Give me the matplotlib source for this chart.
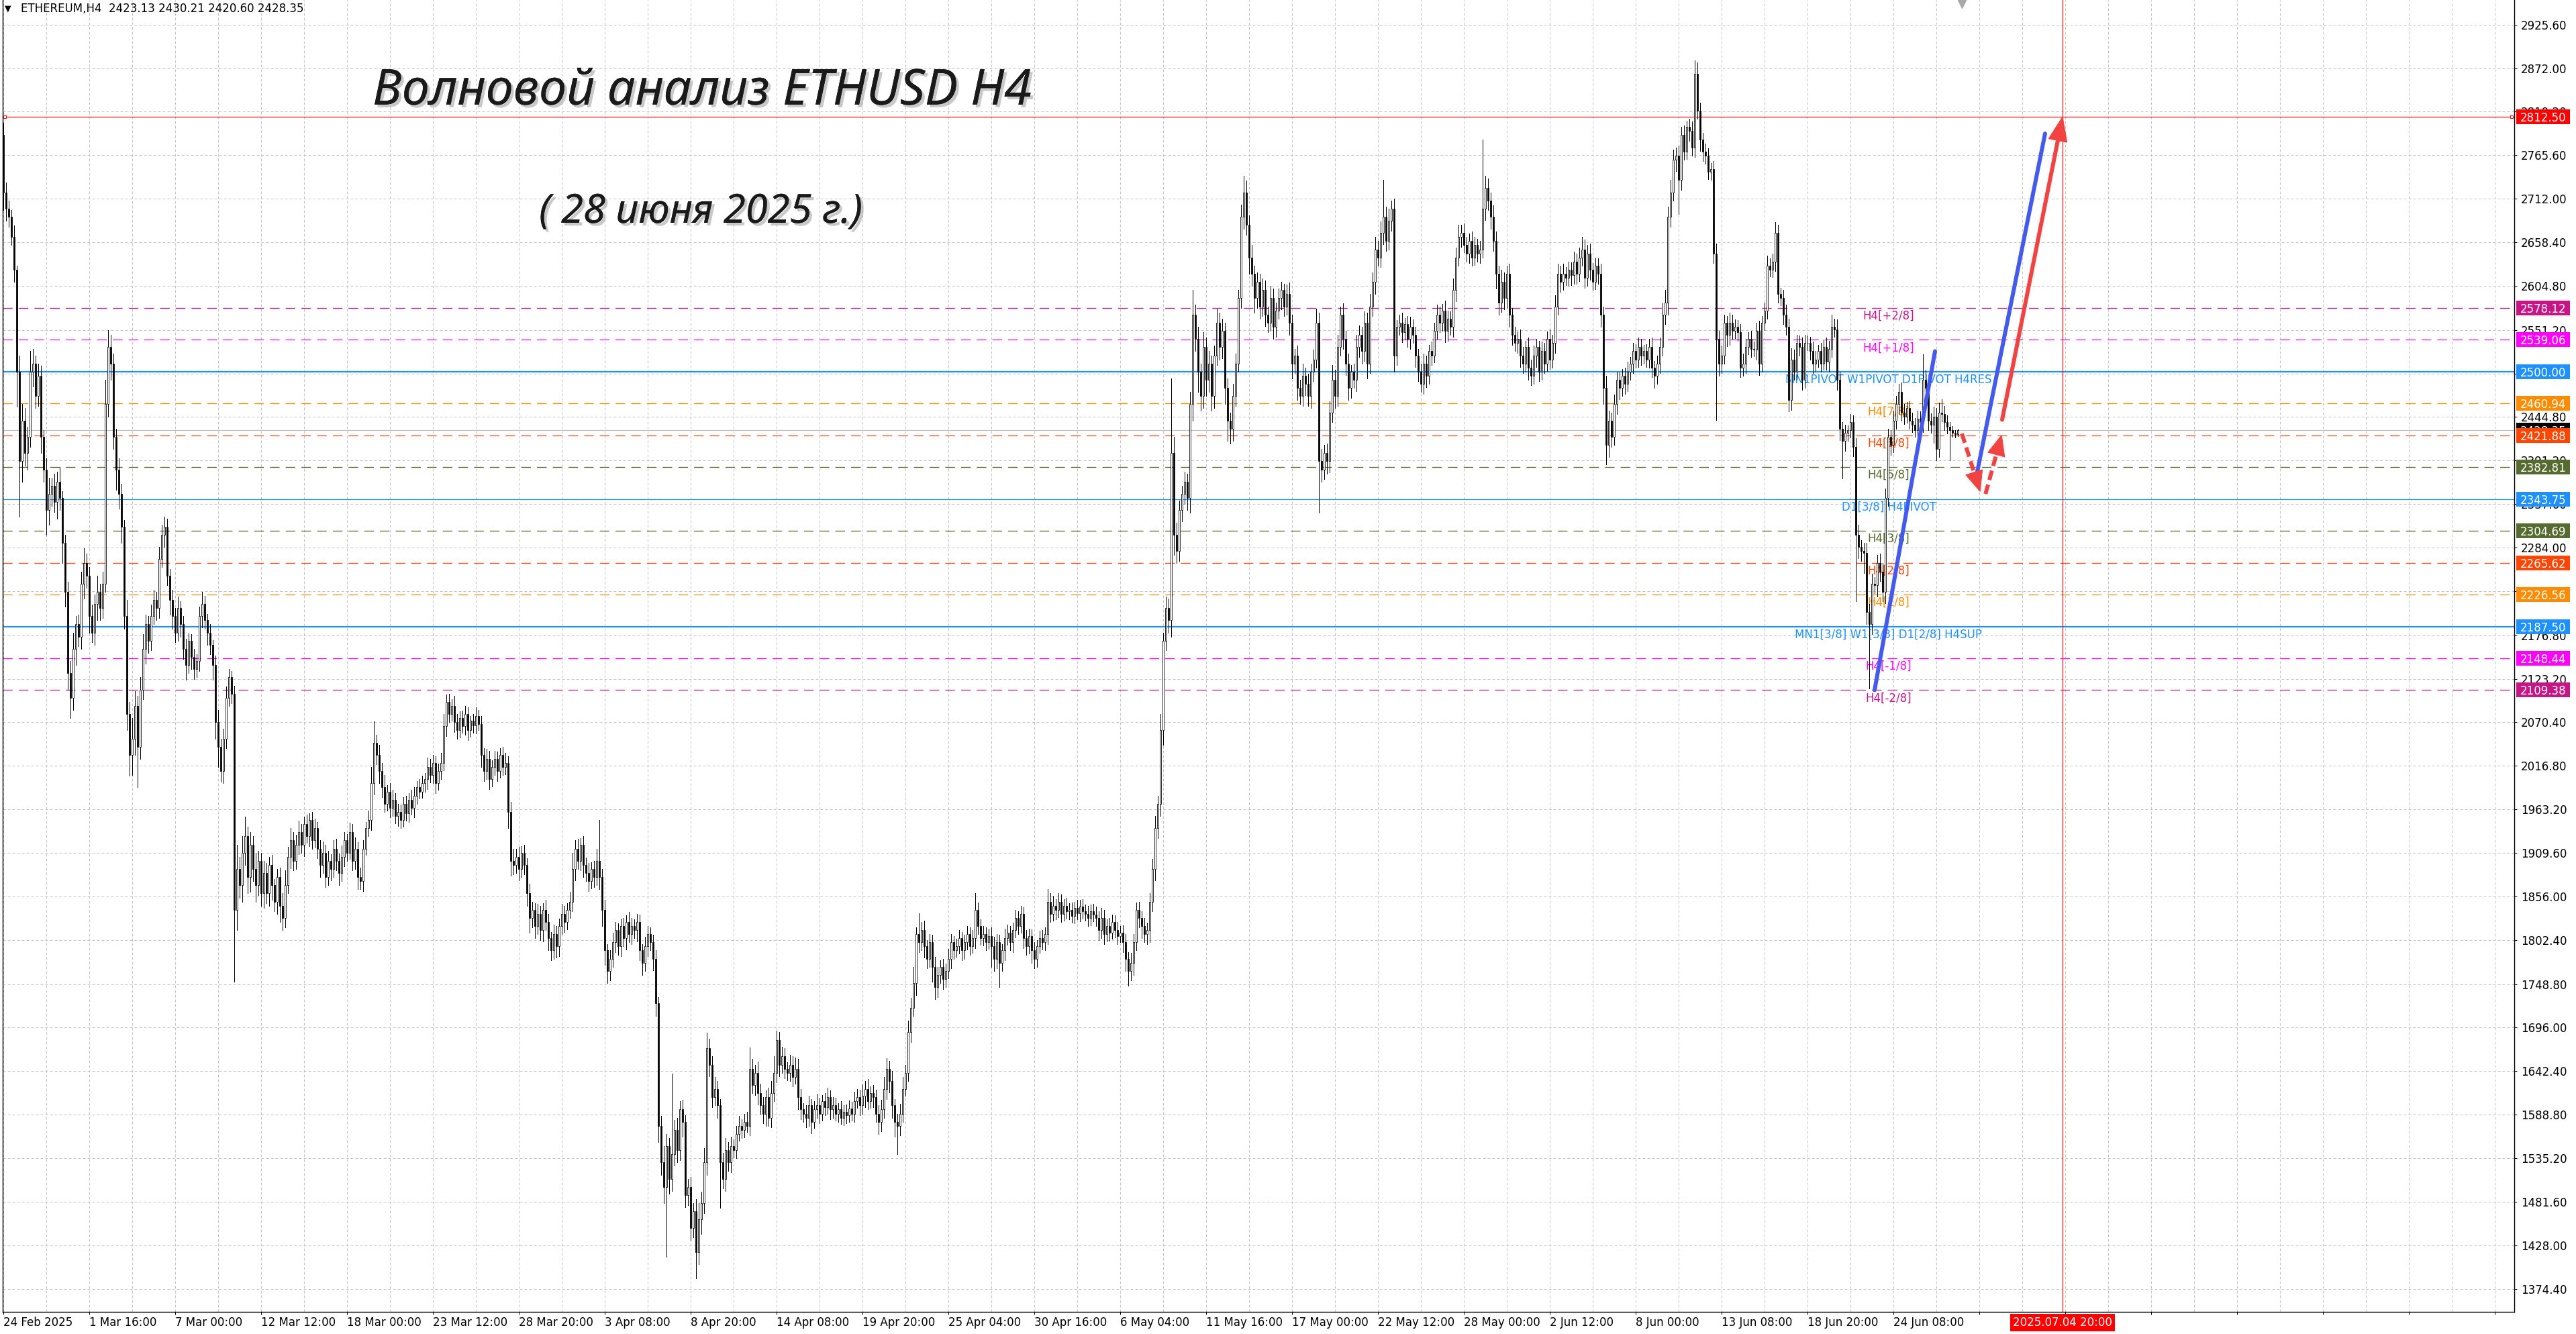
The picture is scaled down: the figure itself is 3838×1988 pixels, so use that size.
import numpy as np
import matplotlib
matplotlib.use('Agg')
import matplotlib.pyplot as plt
import matplotlib.patheffects as pe
from matplotlib.transforms import blended_transform_factory, offset_copy
from matplotlib.patches import Rectangle, Polygon
from datetime import datetime

# ---------------------------------------------------------------- data
symbol = 'ETHEREUM,H4'
first_open = 2790.0

closes = [
    2720, 2700, 2690, 2665, 2625, 2500, 2390, 2440, 2400, 2420,
    2500, 2510, 2470, 2495, 2420, 2380, 2330, 2350, 2360, 2340,
    2365, 2345, 2290, 2230, 2130, 2100, 2160, 2190, 2175, 2240,
    2265, 2250, 2200, 2180, 2215, 2230, 2210, 2240, 2460, 2530,
    2510, 2420, 2380, 2350, 2310, 2200, 2080, 2030, 2050, 2090,
    2040, 2110, 2160, 2190, 2170, 2200, 2220, 2210, 2270, 2300,
    2310, 2250, 2220, 2200, 2180, 2210, 2190, 2160, 2140, 2170,
    2150, 2135, 2145, 2200, 2215, 2195, 2180, 2165, 2140, 2070,
    2040, 2010, 2050, 2100, 2125, 2105, 1840, 1890, 1870, 1910,
    1930, 1880, 1920, 1890, 1870, 1900, 1860, 1885, 1860, 1895,
    1870, 1850, 1880, 1845, 1830, 1870, 1905, 1925, 1900, 1920,
    1935, 1920, 1945, 1930, 1950, 1925, 1940, 1915, 1895, 1910,
    1880, 1900, 1890, 1915, 1900, 1885, 1905, 1925, 1910, 1935,
    1900, 1915, 1880, 1875, 1915, 1940, 1950, 1995, 2045, 2030,
    2010, 1990, 1970, 1985, 1965, 1975, 1955, 1960, 1950, 1970,
    1958, 1975, 1965, 1980, 1990, 1985, 1995, 2000, 2015, 2005,
    2020, 1995, 2010, 2020, 2065, 2095, 2080, 2090, 2070, 2060,
    2075, 2065, 2080, 2060, 2072, 2066, 2078, 2068, 2030, 2010,
    2025, 2000, 2015, 2025, 2010, 2030, 2015, 2020, 1960, 1900,
    1895, 1905, 1890, 1910, 1895, 1860, 1830, 1840, 1820, 1835,
    1815, 1840, 1825, 1805, 1790, 1810, 1795, 1820, 1835, 1825,
    1840, 1850, 1890, 1915, 1900, 1920, 1895, 1885, 1875, 1890,
    1880, 1900, 1880, 1840, 1790, 1765, 1780, 1800, 1815, 1795,
    1820, 1805, 1825, 1810, 1820, 1815, 1825, 1790, 1775, 1795,
    1810, 1800, 1780, 1725, 1575, 1530, 1500, 1550, 1510, 1540,
    1570, 1545, 1595, 1580, 1490, 1500, 1450, 1470, 1420, 1460,
    1480, 1530, 1670, 1650, 1610, 1620, 1600, 1530, 1510, 1545,
    1530, 1550, 1545, 1565, 1575, 1570, 1580, 1575, 1645, 1625,
    1640, 1615, 1600, 1590, 1610, 1585, 1615, 1640, 1680, 1650,
    1660, 1645, 1640, 1650, 1635, 1645, 1610, 1595, 1590, 1585,
    1600, 1580, 1595, 1600, 1590, 1605, 1598, 1610, 1595, 1600,
    1590, 1595, 1585, 1592, 1588, 1596, 1590, 1605, 1610, 1600,
    1612, 1620, 1605, 1615, 1610, 1590, 1580, 1595, 1620, 1645,
    1630, 1600, 1580, 1575, 1590, 1620, 1640, 1690, 1720, 1750,
    1810, 1800, 1815, 1795, 1780, 1800, 1770, 1745, 1760, 1770,
    1755, 1765, 1780, 1800, 1790, 1795, 1805, 1790, 1800, 1810,
    1795, 1805, 1840, 1820, 1805, 1810, 1800, 1808, 1795, 1780,
    1800, 1775, 1790, 1805, 1812, 1800, 1815, 1830, 1820, 1835,
    1805, 1795, 1808, 1790, 1780, 1795, 1805, 1800, 1810, 1850,
    1835, 1845, 1840, 1850, 1835, 1845, 1838, 1840, 1832, 1842,
    1836, 1844, 1838, 1835, 1830, 1838, 1834, 1830, 1815, 1830,
    1810, 1820, 1812, 1825, 1815, 1808, 1812, 1800, 1780, 1765,
    1775, 1800, 1840, 1830, 1820, 1810, 1815, 1850, 1890, 1940,
    1970, 2060, 2170, 2210, 2195, 2400, 2300, 2280, 2330, 2350,
    2365, 2345, 2460, 2570, 2540, 2500, 2470, 2530, 2490, 2510,
    2470, 2520, 2560, 2530, 2550, 2480, 2440, 2430, 2470, 2510,
    2590, 2690, 2720, 2680, 2640, 2620, 2590, 2610, 2580, 2600,
    2570, 2560, 2590, 2555, 2575, 2590, 2600, 2580, 2595, 2560,
    2510, 2520, 2480, 2470, 2495, 2485, 2470, 2500, 2515, 2560,
    2390, 2380, 2400, 2390, 2450, 2490, 2470, 2530, 2570, 2540,
    2510, 2480, 2500, 2490, 2530, 2545, 2525, 2560, 2510, 2580,
    2610, 2650, 2640, 2670, 2690, 2660, 2685, 2700, 2520, 2555,
    2560, 2548, 2558, 2540, 2555, 2545, 2520, 2500, 2485, 2510,
    2495, 2525, 2520, 2550, 2570, 2560, 2575, 2550, 2565, 2555,
    2600, 2640, 2665, 2670, 2655, 2645, 2660, 2640, 2655, 2645,
    2650, 2700, 2725, 2710, 2690, 2660, 2620, 2585, 2610, 2590,
    2620, 2570, 2545, 2535, 2540, 2520, 2510, 2530, 2505, 2495,
    2520, 2530, 2500, 2525, 2510, 2540, 2515, 2535, 2580, 2620,
    2610, 2620, 2615, 2625, 2618, 2635, 2620, 2640, 2650, 2615,
    2645, 2625, 2610, 2630, 2620, 2570, 2480, 2410, 2440, 2420,
    2460, 2490, 2480, 2495, 2485, 2500, 2510, 2525, 2515, 2530,
    2520, 2525, 2515, 2530, 2505, 2495, 2510, 2530, 2570, 2585,
    2690, 2720, 2760, 2765, 2735, 2790, 2770, 2800, 2795, 2775,
    2865, 2820, 2785, 2770, 2765, 2745, 2748, 2645, 2540, 2510,
    2520, 2560, 2545, 2560, 2550, 2555, 2548, 2505, 2510, 2530,
    2540, 2528, 2527, 2550, 2510, 2560, 2575, 2630, 2625, 2635,
    2670, 2595, 2590, 2570, 2555, 2465, 2515, 2500, 2535, 2530,
    2490, 2535, 2535, 2525, 2510, 2515, 2525, 2510, 2530, 2512,
    2528, 2555, 2552, 2490, 2430, 2415, 2425, 2428, 2438, 2408,
    2300, 2285, 2280, 2278, 2205, 2190, 2240, 2238, 2265, 2255,
    2230, 2345, 2420, 2410, 2440, 2460, 2475, 2450, 2445, 2455,
    2440, 2435, 2428, 2442, 2438, 2490, 2480, 2440, 2435, 2445,
    2405, 2450, 2448, 2438, 2432, 2428, 2425, 2423.13, 2428.35,
]

upper_wicks = [
    15, 12, 10, 8, 14, 5, 20, 20, 15, 12,
    25, 18, 10, 15, 12, 8, 14, 20, 10, 15,
    12, 18, 8, 10, 12, 15, 20, 10, 12, 15,
    18, 12, 10, 14, 12, 20, 10, 15, 30, 21,
    15, 12, 10, 14, 12, 8, 20, 15, 25, 18,
    12, 15, 18, 12, 10, 14, 12, 10, 15, 12,
    12, 10, 8, 12, 10, 14, 8, 10, 12, 9,
    8, 10, 8, 12, 15, 10, 8, 10, 6, 12,
    15, 10, 12, 14, 10, 8, 10, 30, 15, 20,
    24, 12, 15, 10, 20, 12, 10, 15, 12, 10,
    12, 8, 10, 12, 15, 18, 12, 15, 10, 12,
    14, 10, 9, 12, 8, 10, 12, 8, 10, 14,
    10, 12, 8, 10, 12, 9, 14, 10, 8, 12,
    10, 14, 8, 12, 10, 8, 12, 20, 26, 10,
    12, 10, 15, 8, 10, 12, 8, 10, 9, 8,
    10, 8, 12, 10, 8, 10, 9, 8, 12, 10,
    10, 8, 9, 12, 15, 9, 10, 8, 12, 10,
    8, 9, 10, 8, 6, 8, 10, 7, 10, 8,
    12, 10, 8, 10, 9, 8, 10, 12, 8, 12,
    15, 10, 12, 8, 10, 8, 12, 10, 8, 12,
    10, 8, 12, 10, 8, 12, 10, 9, 12, 10,
    8, 12, 20, 10, 12, 8, 10, 9, 12, 8,
    10, 15, 50, 10, 12, 8, 10, 12, 10, 8,
    9, 10, 8, 12, 10, 8, 10, 9, 8, 12,
    10, 8, 9, 10, 8, 12, 20, 15, 10, 99,
    12, 15, 10, 12, 8, 10, 12, 10, 15, 20,
    14, 18, 19, 12, 10, 15, 10, 8, 12, 15,
    10, 12, 8, 10, 12, 8, 10, 12, 26, 12,
    10, 14, 12, 10, 8, 12, 15, 20, 12, 10,
    12, 10, 8, 12, 10, 14, 12, 10, 8, 10,
    12, 8, 10, 14, 9, 8, 10, 12, 8, 10,
    9, 8, 10, 8, 9, 10, 8, 12, 10, 9,
    14, 10, 12, 8, 10, 9, 10, 12, 15, 13,
    10, 12, 8, 10, 12, 15, 10, 14, 12, 20,
    8, 26, 10, 12, 8, 10, 9, 12, 10, 8,
    10, 9, 12, 10, 8, 9, 10, 8, 9, 10,
    8, 10, 20, 9, 8, 10, 8, 9, 10, 12,
    10, 9, 8, 12, 10, 8, 9, 10, 8, 10,
    8, 10, 9, 8, 10, 8, 9, 10, 8, 15,
    10, 12, 8, 10, 9, 8, 10, 8, 9, 8,
    10, 8, 9, 8, 10, 8, 9, 10, 8, 12,
    10, 8, 10, 9, 8, 10, 8, 9, 10, 8,
    12, 10, 9, 10, 8, 10, 9, 10, 12, 15,
    10, 20, 10, 14, 12, 92, 20, 15, 12, 10,
    12, 10, 15, 30, 12, 15, 10, 18, 12, 15,
    10, 12, 17, 12, 15, 10, 12, 10, 15, 12,
    10, 15, 20, 14, 12, 15, 10, 12, 10, 14,
    12, 10, 15, 12, 10, 12, 10, 8, 12, 14,
    10, 8, 12, 10, 15, 10, 12, 10, 12, 17,
    12, 15, 10, 12, 14, 18, 12, 15, 10, 14,
    10, 12, 8, 10, 15, 12, 10, 14, 12, 15,
    12, 15, 10, 14, 45, 12, 15, 10, 12, 8,
    10, 12, 8, 10, 12, 9, 10, 8, 10, 12,
    10, 8, 12, 10, 12, 10, 8, 12, 10, 9,
    14, 12, 15, 10, 12, 10, 9, 12, 10, 8,
    10, 85, 15, 12, 10, 14, 12, 10, 15, 12,
    10, 12, 8, 10, 9, 12, 10, 8, 12, 10,
    12, 10, 8, 12, 10, 9, 12, 10, 14, 12,
    10, 12, 8, 10, 9, 12, 10, 12, 15, 12,
    10, 12, 8, 10, 9, 12, 10, 15, 12, 10,
    12, 10, 9, 8, 10, 12, 8, 10, 9, 12,
    10, 8, 9, 10, 12, 8, 10, 12, 14, 15,
    12, 15, 12, 10, 12, 10, 12, 8, 10, 12,
    17, 14, 10, 8, 10, 9, 8, 10, 12, 10,
    12, 10, 8, 12, 10, 9, 8, 10, 12, 10,
    8, 10, 9, 10, 12, 8, 10, 12, 9, 10,
    13, 10, 8, 10, 12, 10, 14, 12, 10, 9,
    12, 10, 9, 8, 12, 10, 8, 10, 9, 12,
    10, 15, 10, 12, 10, 8, 10, 6, 10, 8,
    10, 12, 8, 10, 12, 10, 12, 8, 10, 12,
    10, 12, 10, 8, 12, 10, 10, 12, 10, 8,
    9, 10, 8, 10, 9, 31, 12, 10, 9, 12,
    10, 12, 16, 10, 8, 6, 5, 3, 1.86,
]

lower_wicks = [
    22, 15, 12, 10, 15, 43, 68, 25, 15, 20,
    12, 18, 15, 12, 20, 15, 30, 18, 15, 12,
    20, 15, 25, 18, 20, 25, 15, 20, 12, 15,
    18, 15, 20, 12, 15, 20, 15, 12, 10, 15,
    20, 15, 25, 18, 20, 15, 20, 26, 25, 20,
    50, 15, 12, 18, 15, 12, 10, 15, 12, 10,
    15, 12, 18, 15, 12, 10, 15, 12, 18, 10,
    15, 12, 10, 12, 14, 10, 15, 12, 18, 20,
    25, 13, 15, 12, 10, 12, 88, 25, 15, 20,
    15, 20, 18, 15, 20, 12, 15, 18, 12, 15,
    18, 12, 15, 20, 15, 12, 10, 14, 12, 10,
    12, 10, 14, 8, 12, 10, 9, 12, 15, 10,
    12, 10, 14, 10, 12, 15, 10, 12, 10, 8,
    12, 10, 15, 10, 12, 8, 10, 12, 14, 12,
    15, 12, 10, 8, 12, 10, 9, 12, 10, 8,
    9, 10, 8, 12, 10, 9, 8, 10, 12, 9,
    10, 12, 8, 10, 9, 12, 10, 8, 12, 10,
    9, 8, 10, 12, 8, 9, 10, 8, 15, 12,
    10, 12, 9, 10, 12, 8, 10, 9, 20, 18,
    12, 10, 14, 10, 12, 15, 18, 12, 15, 10,
    12, 14, 10, 15, 12, 10, 14, 12, 10, 12,
    9, 10, 12, 14, 10, 12, 15, 10, 12, 9,
    12, 10, 15, 20, 18, 15, 12, 10, 12, 10,
    12, 10, 14, 10, 12, 10, 14, 12, 15, 10,
    12, 10, 14, 15, 20, 15, 20, 86, 18, 15,
    14, 15, 12, 18, 15, 12, 15, 12, 32, 15,
    18, 12, 15, 14, 12, 10, 15, 56, 12, 15,
    10, 12, 9, 10, 8, 10, 9, 8, 12, 10,
    12, 14, 10, 12, 15, 10, 12, 10, 12, 14,
    10, 12, 9, 10, 12, 8, 15, 12, 10, 12,
    10, 14, 8, 10, 12, 9, 10, 8, 12, 10,
    9, 10, 8, 9, 10, 8, 9, 10, 8, 12,
    10, 14, 10, 8, 12, 10, 15, 12, 10, 12,
    14, 15, 18, 35, 12, 10, 8, 10, 12, 10,
    15, 12, 10, 14, 12, 10, 18, 15, 12, 10,
    12, 10, 9, 12, 10, 8, 9, 12, 10, 9,
    10, 8, 12, 10, 8, 9, 10, 8, 25, 15,
    12, 30, 10, 12, 8, 10, 12, 9, 10, 8,
    12, 10, 9, 15, 12, 10, 8, 9, 10, 12,
    10, 8, 12, 9, 10, 8, 9, 10, 8, 9,
    8, 10, 9, 8, 10, 9, 8, 10, 12, 10,
    12, 9, 10, 8, 9, 10, 8, 12, 15, 18,
    12, 15, 10, 12, 15, 10, 12, 15, 12, 14,
    12, 15, 18, 12, 15, 20, 25, 15, 12, 14,
    12, 15, 18, 20, 15, 25, 18, 15, 20, 15,
    18, 15, 12, 15, 14, 20, 25, 18, 15, 12,
    10, 12, 15, 12, 20, 15, 18, 12, 15, 12,
    14, 12, 10, 15, 12, 10, 14, 12, 10, 15,
    18, 12, 15, 10, 12, 14, 12, 15, 12, 10,
    63, 15, 12, 15, 14, 12, 15, 12, 10, 12,
    14, 15, 12, 10, 14, 12, 15, 12, 18, 12,
    12, 15, 10, 12, 14, 12, 10, 12, 20, 12,
    10, 12, 9, 10, 12, 10, 14, 12, 10, 12,
    14, 10, 12, 9, 10, 12, 10, 14, 12, 10,
    12, 14, 10, 12, 9, 10, 12, 10, 9, 10,
    12, 10, 14, 12, 15, 12, 18, 15, 12, 14,
    12, 15, 12, 10, 12, 14, 12, 10, 15, 12,
    10, 14, 12, 10, 12, 9, 12, 10, 12, 10,
    12, 10, 9, 10, 12, 10, 12, 9, 10, 12,
    10, 12, 10, 9, 12, 15, 20, 24, 15, 12,
    10, 12, 14, 10, 12, 9, 10, 12, 10, 9,
    12, 10, 9, 10, 12, 15, 10, 12, 10, 12,
    15, 12, 10, 14, 42, 12, 10, 9, 12, 10,
    12, 10, 14, 12, 10, 9, 10, 12, 99, 15,
    12, 10, 14, 12, 10, 9, 10, 12, 10, 12,
    9, 10, 8, 12, 14, 10, 9, 10, 8, 9,
    12, 10, 9, 12, 10, 14, 12, 10, 9, 10,
    12, 10, 9, 10, 12, 10, 9, 10, 8, 10,
    12, 10, 9, 12, 14, 46, 12, 10, 9, 12,
    82, 14, 12, 25, 15, 79, 12, 10, 14, 12,
    12, 14, 10, 12, 9, 10, 12, 10, 9, 8,
    10, 9, 8, 10, 9, 12, 10, 12, 10, 22,
    14, 10, 9, 10, 8, 37, 5, 4, 2.53,
]

y_ticks = [2925.60, 2872.00, 2819.20, 2765.60, 2712.00, 2658.40, 2604.80,
           2551.20, 2497.60, 2444.80, 2391.20, 2337.60, 2284.00, 2230.40,
           2176.80, 2123.20, 2070.40, 2016.80, 1963.20, 1909.60, 1856.00,
           1802.40, 1748.80, 1696.00, 1642.40, 1588.80, 1535.20, 1481.60,
           1428.00, 1374.40]

x_tick_labels = ['24 Feb 2025', '1 Mar 16:00', '7 Mar 00:00', '12 Mar 12:00',
                 '18 Mar 00:00', '23 Mar 12:00', '28 Mar 20:00', '3 Apr 08:00',
                 '8 Apr 20:00', '14 Apr 08:00', '19 Apr 20:00', '25 Apr 04:00',
                 '30 Apr 16:00', '6 May 04:00', '11 May 16:00', '17 May 00:00',
                 '22 May 12:00', '28 May 00:00', '2 Jun 12:00', '8 Jun 00:00',
                 '13 Jun 08:00', '18 Jun 20:00', '24 Jun 08:00']
bars_per_label = 32
last_label_time = datetime(2025, 6, 24, 8, 0)
forecast_time = datetime(2025, 7, 4, 20, 0)

level_prices = [2812.50, 2578.12, 2539.06, 2500.00, 2460.94, 2421.88, 2382.81,
                2343.75, 2304.69, 2265.62, 2226.56, 2187.50, 2148.44, 2109.38]
level_names = ['', 'H4[+2/8]', 'H4[+1/8]', 'MN1PIVOT W1PIVOT D1PIVOT H4RES',
               'H4[7/8]', 'H4[6/8]', 'H4[5/8]', 'D1[3/8] H4PIVOT', 'H4[3/8]',
               'H4[2/8]', 'H4[1/8]', 'MN1[3/8] W1[3/8] D1[2/8] H4SUP',
               'H4[-1/8]', 'H4[-2/8]']
level_colors = ['#FF0000', '#C71585', '#FF00FF', '#1E90FF', '#FF8C00', '#FF4500',
                '#556B2F', '#1E90FF', '#556B2F', '#FF4500', '#FF8C00', '#1E90FF',
                '#FF00FF', '#C71585']
level_kinds = ['solid', 'dash', 'dash', 'thick', 'dash', 'dash', 'dash', 'solid',
               'dash', 'dash', 'dash', 'thick', 'dash', 'dash']

# forecast drawings: (bar indices, prices)
wave_blue_1 = ([697.0, 719.5], [2109.38, 2525.0])
wave_blue_2 = ([734.5, 760.5], [2365.0, 2792.0])
wave_red_up = ([744.5, 767.0], [2441.0, 2812.5])
wave_red_dash_down = ([729.5, 736.3], [2424.0, 2353.0])
wave_red_dash_up = ([738.3, 744.3], [2350.0, 2422.0])

title_text = 'Волновой анализ ETHUSD H4'
subtitle_text = '( 28 июня 2025 г.)'

# ---------------------------------------------------------------- checks
n = len(closes)
if not (len(upper_wicks) == n and len(lower_wicks) == n):
    raise ValueError(f'lengths {n} {len(upper_wicks)} {len(lower_wicks)}')

opens = np.array([first_open] + closes[:-1], dtype=float)
cl = np.array(closes, dtype=float)
highs = np.maximum(opens, cl) + np.array(upper_wicks, dtype=float)
lows = np.minimum(opens, cl) - np.array(lower_wicks, dtype=float)

# ---------------------------------------------------------------- figure
W, H, DPI = 3838, 1988, 100
PX = 72.0 / DPI
plt.rcParams['font.family'] = ['DejaVu Sans']

fig = plt.figure(figsize=(W / DPI, H / DPI), dpi=DPI)
fig.patch.set_facecolor('white')
L_PX, R_PX, T_PX, B_PX = 4, 3746, 0, 1955
ax = fig.add_axes([L_PX / W, (H - B_PX) / H, (R_PX - L_PX) / W, (B_PX - T_PX) / H])
ax.set_facecolor('white')

x0_bar = (L_PX - 5) / 4.0
x1_bar = (R_PX - 5) / 4.0
ymin, ymax = 1346.8, 2955.8
ax.set_xlim(x0_bar, x1_bar)
ax.set_ylim(ymin, ymax)
price_per_px = (ymax - ymin) / (B_PX - T_PX)


def ax_x(px):
    return (px - L_PX) / (R_PX - L_PX)


ybl = blended_transform_factory(ax.transAxes, ax.transData)
xbl = blended_transform_factory(ax.transData, ax.transAxes)

# grid & ticks
ax.set_axisbelow(True)
ax.yaxis.tick_right()
ax.set_yticks(y_ticks)
ax.set_yticklabels([f'{v:.2f}' for v in y_ticks])
major_x = np.arange(0, x1_bar, bars_per_label)
ax.set_xticks(major_x)
labels_full = x_tick_labels + [''] * (len(major_x) - len(x_tick_labels))
ax.set_xticklabels(labels_full)
for lbl in ax.get_xticklabels():
    lbl.set_horizontalalignment('left')
ax.set_xticks(np.arange(bars_per_label // 2, x1_bar, bars_per_label), minor=True)
ax.tick_params(axis='x', which='minor', length=0)
ax.tick_params(axis='x', which='major', length=4 * PX, width=PX, pad=2.5,
               labelsize=12, colors='black')
ax.tick_params(axis='y', which='major', length=4 * PX, width=PX, pad=6 * PX,
               labelsize=12, colors='black')
grid_kw = dict(color='#C4C4C4', lw=PX, linestyle=(0, (4, 3)))
ax.grid(True, axis='y', which='major', **grid_kw)
ax.grid(True, axis='x', which='both', **grid_kw)

for s in ['top']:
    ax.spines[s].set_visible(False)
for s in ['left', 'right', 'bottom']:
    ax.spines[s].set_color('black')
    ax.spines[s].set_linewidth(1.4 * PX)

# level lines
for p, c, k in zip(level_prices, level_colors, level_kinds):
    if k == 'dash':
        ax.axhline(p, color=c, lw=1.3 * PX, linestyle=(0, (11, 7)), zorder=2)
    elif k == 'thick':
        ax.axhline(p, color=c, lw=2.2 * PX, zorder=2)
    else:
        ax.axhline(p, color=c, lw=1.2 * PX, zorder=2)
# end squares of the red horizontal line
ax.plot([ax_x(7), ax_x(3742)], [level_prices[0]] * 2, transform=ybl, ls='none',
        marker='s', ms=4.5 * PX, mfc='white', mec='#FF0000', mew=PX,
        clip_on=False, zorder=3)
# current price line
ax.axhline(cl[-1], color='#BEBEBE', lw=1.2 * PX, zorder=2)

# level text labels
label_bar = (2814 - 5) / 4.0
tdown = offset_copy(ax.transData, fig=fig, x=0, y=-3, units='dots')
for p, name, c in zip(level_prices, level_names, level_colors):
    if name:
        ax.text(label_bar, p, name, color=c, fontsize=12, ha='center', va='top',
                transform=tdown, zorder=3)

# candles
xs = np.arange(n)
ax.vlines(xs, lows, highs, color='black', lw=1.0 * PX, zorder=4,
          antialiased=False)
body_bottom = np.minimum(opens, cl)
body_h = np.maximum(np.abs(cl - opens), 0.4)
face = ['white' if c >= o else 'black' for o, c in zip(opens, cl)]
ax.bar(xs, body_h, bottom=body_bottom, width=0.6, color=face,
       edgecolor='black', linewidth=0.8 * PX, zorder=5)

# forecast vertical line
forecast_bar = (n - 1 - (n - 1) % bars_per_label) + \
    (forecast_time - last_label_time).total_seconds() / (4 * 3600)
ax.axvline(forecast_bar, color='#FF0000', lw=1.2 * PX, zorder=2)

# forecast wave drawings
BLUE = '#4259F2'
RED = '#F34242'
LW = 6 * PX


def to_px(x, y):
    return ax.transData.transform((x, y))


def to_data(p):
    return ax.transData.inverted().transform(p)


def head_polygon(start, tip, hl=32, hw=13):
    a = np.array(to_px(*start))
    b = np.array(to_px(*tip))
    u = (b - a) / np.hypot(*(b - a))
    v = np.array([-u[1], u[0]])
    base = b - u * hl
    pts = [b, base + v * hw, base - v * hw]
    return [to_data(p) for p in pts], to_data(base)


for xsw, ysw in [wave_blue_1, wave_blue_2]:
    ax.plot(xsw, ysw, color=BLUE, lw=LW, solid_capstyle='round', zorder=8)

pts, base = head_polygon((wave_red_up[0][0], wave_red_up[1][0]),
                         (wave_red_up[0][1], wave_red_up[1][1]), hl=36, hw=14)
ax.plot([wave_red_up[0][0], base[0]], [wave_red_up[1][0], base[1]], color=RED,
        lw=LW, solid_capstyle='round', zorder=9)
ax.add_patch(Polygon(pts, closed=True, fc=RED, ec=RED, lw=PX, zorder=9))

for xsw, ysw in [wave_red_dash_down, wave_red_dash_up]:
    pts, base = head_polygon((xsw[0], ysw[0]), (xsw[1], ysw[1]), hl=30, hw=13)
    ax.plot([xsw[0], base[0]], [ysw[0], base[1]], color=RED, lw=LW,
            dashes=(2.4, 1.2), dash_capstyle='butt', zorder=9)
    ax.add_patch(Polygon(pts, closed=True, fc=RED, ec=RED, lw=PX, zorder=9))

# right-side price boxes
box_h = 22 * price_per_px
box_x0, box_x1 = ax_x(3749), ax_x(3829)


def price_box(price, color, z):
    ax.add_patch(Rectangle((box_x0, price - box_h / 2), box_x1 - box_x0, box_h,
                           transform=ybl, fc=color, ec='none', clip_on=False,
                           zorder=z))
    ax.text((box_x0 + box_x1) / 2, price, f'{price:.2f}', color='white',
            fontsize=12, ha='center', va='center_baseline', transform=ybl,
            clip_on=False, zorder=z + 0.5)


price_box(float(cl[-1]), 'black', 19)
for p, c in zip(level_prices, level_colors):
    price_box(p, c, 20)

# forecast date label on the time axis
ax.text(forecast_bar, -16 / (B_PX - T_PX), forecast_time.strftime('%Y.%m.%d %H:%M'),
        transform=xbl, ha='center', va='center', fontsize=12, color='white',
        clip_on=False, zorder=20,
        bbox=dict(boxstyle='square,pad=0.22', fc='#FF0000', ec='none'))

# chart shift marker
ax.plot([n + 0.5], [0.997], transform=xbl, marker='v', ms=9, color='#A8A8A8',
        clip_on=False, zorder=6)

# header
fig.text(7 / W, 1 - 13 / H, '\u25BC', fontsize=9, va='center', ha='left')
fig.text(31 / W, 1 - 13 / H,
         f'{symbol}  {opens[-1]:.2f} {highs[-1]:.2f} {lows[-1]:.2f} {cl[-1]:.2f}',
         fontsize=12, va='center', ha='left')

# titles
shadow = [pe.withSimplePatchShadow(offset=(3, -3), shadow_rgbFace='#888888', alpha=0.45),
          pe.Normal()]
fig.text(1046 / W, 1 - 137 / H, title_text, fontsize=53, style='italic',
         family=['Noto Sans', 'DejaVu Sans'], color='#1A1A1A', ha='center',
         va='center', path_effects=shadow)
fig.text(1044 / W, 1 - 316 / H, subtitle_text, fontsize=43, style='italic',
         family=['Noto Sans', 'DejaVu Sans'], color='#1A1A1A', ha='center',
         va='center', path_effects=shadow)

fig.savefig('out.png', dpi=DPI, facecolor='white')
